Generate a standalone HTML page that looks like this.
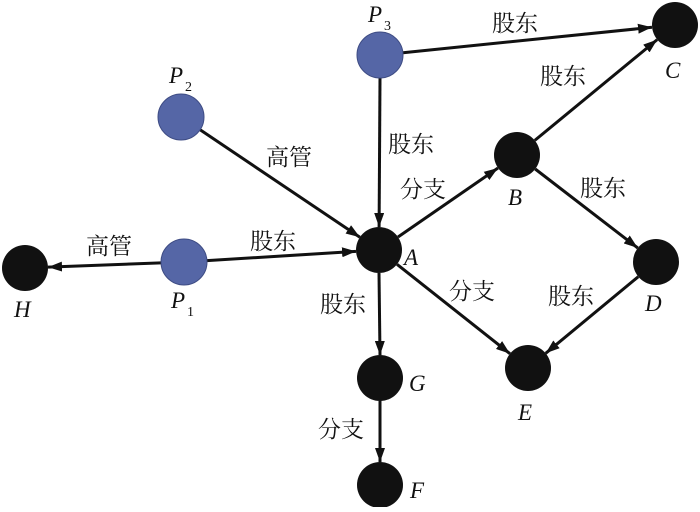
<!DOCTYPE html>
<html><head><meta charset="utf-8"><style>
html,body{margin:0;padding:0;background:#fff}
svg text{font-family:"Liberation Serif","Noto Serif CJK SC",serif;fill:#111}
.c{font-family:"Liberation Serif","Noto Serif CJK SC","Noto Sans CJK SC",serif;font-size:23px}
.l{font-style:italic;font-size:23px}
</style></head><body>
<svg width="700" height="507" viewBox="0 0 700 507" xmlns="http://www.w3.org/2000/svg">
<defs><marker id="a" viewBox="0 0 14 10" refX="14" refY="5" markerWidth="14" markerHeight="10" markerUnits="userSpaceOnUse" orient="auto"><path d="M0,0 L14,5 L0,10 Z" fill="#111"/></marker></defs>
<g stroke="#111" stroke-width="3" marker-end="url(#a)">
<line x1="403" y1="52.7" x2="652" y2="27.3"/>
<line x1="534.8" y1="140.4" x2="657.2" y2="39.6"/>
<line x1="380" y1="78" x2="379.1" y2="227"/>
<line x1="200.1" y1="129.8" x2="359.9" y2="237.2"/>
<line x1="207" y1="260.6" x2="356" y2="251.4"/>
<line x1="161" y1="262.9" x2="48" y2="267.1"/>
<line x1="398" y1="237" x2="498" y2="168"/>
<line x1="535.2" y1="169" x2="637.8" y2="248"/>
<line x1="397" y1="264.3" x2="510" y2="353.7"/>
<line x1="638.3" y1="276.7" x2="545.7" y2="353.3"/>
<line x1="379" y1="273" x2="380" y2="355"/>
<line x1="380" y1="401" x2="380" y2="462"/>
</g>
<g fill="#5566a6" stroke="#3e4c84" stroke-width="1">
<circle cx="380" cy="55" r="23"/><circle cx="181" cy="117" r="23"/><circle cx="184" cy="262" r="23"/>
</g>
<g fill="#111">
<circle cx="675" cy="25" r="23"/><circle cx="517" cy="155" r="23"/><circle cx="379" cy="250" r="23"/>
<circle cx="656" cy="262" r="23"/><circle cx="528" cy="368" r="23"/><circle cx="380" cy="378" r="23"/>
<circle cx="380" cy="485" r="23"/><circle cx="25" cy="268" r="23"/>
</g>
<g class="c">
<text x="492" y="31">股东</text>
<text x="540" y="84">股东</text>
<text x="388" y="152">股东</text>
<text x="400" y="197">分支</text>
<text x="266" y="165">高管</text>
<text x="250" y="249">股东</text>
<text x="86" y="254">高管</text>
<text x="580" y="196">股东</text>
<text x="449" y="299">分支</text>
<text x="548" y="304">股东</text>
<text x="320" y="312">股东</text>
<text x="318" y="437">分支</text>
</g>
<g class="l">
<text x="368" y="22">P</text><text x="384" y="30" style="font-size:14px;font-style:normal">3</text>
<text x="169" y="83">P</text><text x="185" y="91" style="font-size:14px;font-style:normal">2</text>
<text x="171" y="308">P</text><text x="187" y="316" style="font-size:14px;font-style:normal">1</text>
<text x="404" y="265">A</text>
<text x="508" y="205">B</text>
<text x="665" y="78">C</text>
<text x="645" y="311">D</text>
<text x="518" y="420">E</text>
<text x="409" y="391">G</text>
<text x="14" y="317">H</text>
<text x="410" y="498">F</text>
</g>
</svg>
</body></html>
